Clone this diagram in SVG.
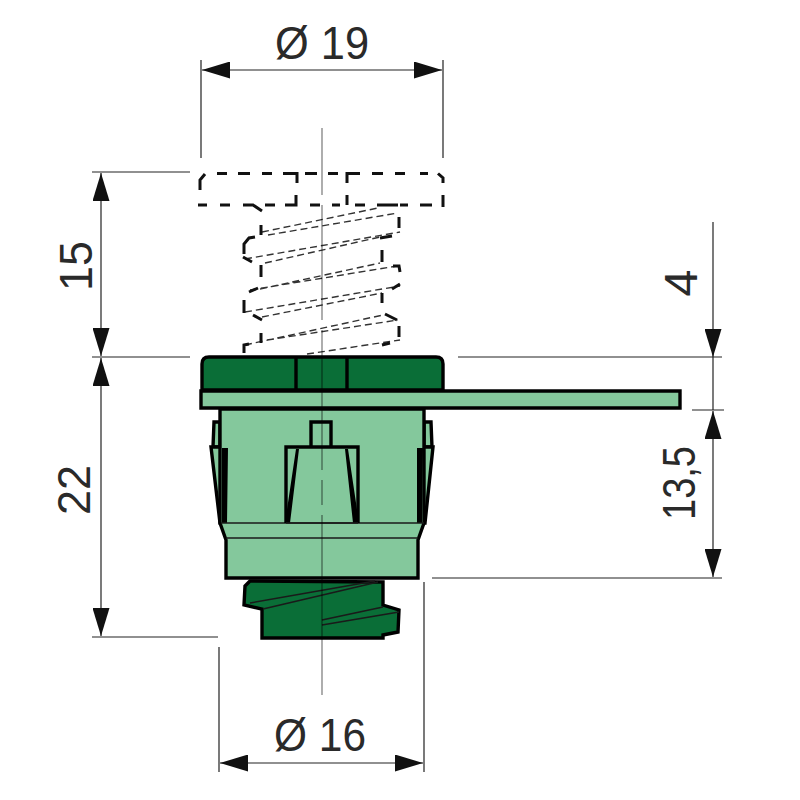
<svg xmlns="http://www.w3.org/2000/svg" width="800" height="800" viewBox="0 0 800 800">
<style>
.dim{fill:none;stroke:#222;stroke-width:1.2}
.lbl{font-family:"Liberation Sans",Arial,sans-serif;font-size:47px;fill:#2a2a2a;text-anchor:middle}
.dark{fill:#0a6e37;stroke:#000;stroke-width:3.4;stroke-linejoin:miter}
.light{fill:#84c89c;stroke:#000;stroke-width:3.4;stroke-linejoin:miter}
.ln{fill:none;stroke:#000;stroke-width:3.4}
.thin{fill:none;stroke:#1a1a1a;stroke-width:1.5}
.hd{fill:none;stroke:#111;stroke-width:3}
.th{fill:none;stroke:#333;stroke-width:1.4;stroke-dasharray:7 4}
.cl{fill:none;stroke:#000;stroke-opacity:.4;stroke-width:1.6}
</style>
<defs>
<marker id="a" viewBox="0 0 28 17" refX="28" refY="8.5" markerWidth="28" markerHeight="17" markerUnits="userSpaceOnUse" orient="auto-start-reverse"><path d="M0 0L28 8.5L0 17Z" fill="#111"/></marker>
</defs>

<g id="head-dashed">
<path class="hd" d="M200 190V180L205 174M217 173.5H227M238 173.5H250M262 173.5H272M283 173.5H297V183M305 173.5H317M328 173.5H338M347 183V173.5H360M372 173.5H383M395 173.5H405M420 173.5H428M438 173.5L443 178V183"/>
<path class="hd" d="M198 205H207M220 205H230M243 205H253L262 211M265 205H275M285 205H296V195M310 205H320M332 205H340M347 195V205M355 205H365M377 205H398M400 205H408M420 205H432M443 195V207"/>
</g>

<g id="thread-dashed">
<path class="th" d="M262 232L378 208M268 235L398 213"/>
<path class="th" d="M245 259L400 232M265 263L380 237"/>
<path class="th" d="M250 290L397 266M260 289L380 263"/>
<path class="th" d="M245 312L400 286M262 317L382 293"/>
<path class="th" d="M245 345L383 315M267 340L398 320"/>
<path class="th" d="M307 354L400 340"/>
<path class="hd" d="M261 225V235M244 254V244L249 238L255 237M243 257L252 262M261 265V277M249 292L258 288M244 300V313M253 315L262 320M261 333V343M244 353V345L249 344"/>
<path class="hd" d="M399 217V228M380 238L392 236M382 250V262M393 266H399L400 272M392 289L400 284M382 293V303M385 314L397 320M399 326V337M382 345L390 343"/>
</g>

<g id="cap">
<path class="dark" d="M202 390V364Q202 357 209 357H436Q443 357 443 364V390Z"/>
<path class="ln" d="M296 358V390M347 358V390"/>
</g>

<g id="screw">
<path class="dark" d="M250 581L245 586L244 605L262 609V638H383V635L398 632L399 610L383 605V582Z"/>
<path class="thin" d="M250 603L375 581M263 609L378 582M322 620L383 607M322 625L399 612"/>
</g>

<g id="body">
<path class="light" d="M213 447L214 422H220V447ZM424 447V422H431L432 447Z"/>
<path class="light" d="M211 447H226V523H220Z"/>
<path class="light" d="M433 447H419V523H425Z"/>
<path class="light" d="M220 409H424V523L418 540V578H226V540L220 523Z"/>
<path d="M222 448H228L227 523H222Z M417 448H423L422 523H417Z" fill="#000"/>
<path class="thin" d="M221 523H424M226 538H418"/>
<path class="light" d="M201 391H680V408H201Z"/>
<path class="ln" d="M311 446V422H331V446"/>
<path class="ln" d="M286 523V447H358V523"/>
<path d="M285 523L296 449H299L290 523Z M359 523L348 449H345L353 523Z" fill="#000"/>
<path class="thin" d="M286 523H358"/>
</g>

<g id="connectors">
<path class="cl" d="M322 128V195M322 205V320M322 330V470M322 480V505M322 515V695"/>
<path class="dim" d="M201 60V158M443 60V158"/>
<path class="dim" d="M202 70H442" marker-start="url(#a)" marker-end="url(#a)"/>
<path class="dim" d="M92 172H190M92 357H190M92 637H218"/>
<path class="dim" d="M101 173V356" marker-start="url(#a)" marker-end="url(#a)"/>
<path class="dim" d="M101 358V636" marker-start="url(#a)" marker-end="url(#a)"/>
<path class="dim" d="M219 647V772M424 582V772"/>
<path class="dim" d="M220 763H423" marker-start="url(#a)" marker-end="url(#a)"/>
<path class="dim" d="M458 357H722M692 410H724M432 578H722"/>
<path class="dim" d="M713 222V357" marker-end="url(#a)"/>
<path class="dim" d="M713 357V410"/>
<path class="dim" d="M713 411V577" marker-start="url(#a)" marker-end="url(#a)"/>
</g>

<g id="labels">
<text class="lbl" x="322" y="59" textLength="94" lengthAdjust="spacingAndGlyphs">Ø 19</text>
<text class="lbl" x="320" y="751" textLength="92" lengthAdjust="spacingAndGlyphs">Ø 16</text>
<text class="lbl" transform="translate(92,266) rotate(-90)" textLength="50" lengthAdjust="spacingAndGlyphs">15</text>
<text class="lbl" transform="translate(90,490) rotate(-90)" textLength="50" lengthAdjust="spacingAndGlyphs">22</text>
<text class="lbl" transform="translate(697,283) rotate(-90)" textLength="27" lengthAdjust="spacingAndGlyphs">4</text>
<text class="lbl" transform="translate(695,483) rotate(-90)" textLength="74" lengthAdjust="spacingAndGlyphs">13,5</text>
</g>
</svg>
